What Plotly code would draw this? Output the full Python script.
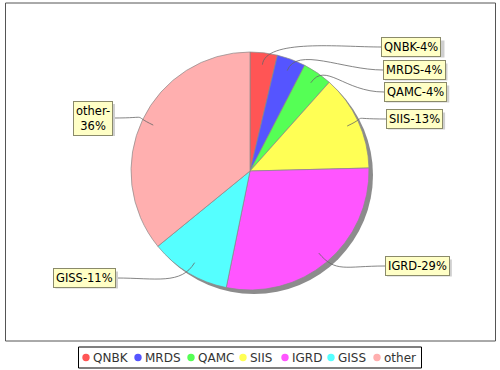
import math
import plotly.graph_objects as go

# ---- data ----
categories = ["QNBK", "MRDS", "QAMC", "SIIS", "IGRD", "GISS", "other"]
values = [3.7, 3.9, 4.0, 13.0, 28.6, 10.9, 35.9]
colors = ["#FF5555", "#5555FF", "#55FF55", "#FFFF55", "#FF55FF", "#55FFFF", "#FFAFAF"]

W, H = 500, 370
FONT = "DejaVu Sans"
FS = 11.5

# approximate DejaVu Sans advance widths (em) for box-shadow sizing
CW = {"Q": .787, "N": .748, "B": .686, "K": .656, "-": .361, "%": .950, "M": .863,
      "R": .695, "D": .770, "S": .635, "A": .684, "C": .698, "I": .295, "G": .775,
      "o": .612, "t": .392, "h": .634, "e": .615, "r": .411}

def text_w(s):
    return sum(CW.get(ch, .636) for ch in s) * FS

# pie geometry (pixels)
CX, CY, R = 250, 171, 119

def px(x):
    return x / W

def py(y):
    return 1 - y / H

total = sum(values)
pcts = [round(v / total * 100) for v in values]
label_lines = [[f"{c}-{p}%"] for c, p in zip(categories, pcts)]
label_lines[6] = [f"{categories[6]}-", f"{pcts[6]}%"]

fig = go.Figure()

# shadow pie
SH = 4
fig.add_trace(go.Pie(
    values=[1], marker=dict(colors=["#8c8c8c"], line=dict(width=0)),
    textinfo="none", hoverinfo="skip", showlegend=False, sort=False,
    domain=dict(x=[px(CX - R + SH), px(CX + R + SH)], y=[py(CY + R + SH), py(CY - R + SH)]),
))

fig.add_trace(go.Pie(
    labels=categories, values=values, sort=False, direction="clockwise", rotation=0,
    marker=dict(colors=colors, line=dict(color="#8a8a8a", width=0.7)),
    textinfo="none", showlegend=False,
    domain=dict(x=[px(CX - R), px(CX + R)], y=[py(CY + R), py(CY - R)]),
))

# label placement (layout): (edge x px, center y px, side)
label_pos = [
    (381, 47, "r"), (383, 70, "r"), (384, 92, "r"), (386, 119, "r"),
    (385, 266, "r"), (116, 278, "l"), (113, 118, "l"),
]

shapes = []
annotations = []

# plot border
shapes.append(dict(type="rect", xref="paper", yref="paper",
                   x0=px(5.5), x1=px(495.5), y0=py(341), y1=py(3),
                   line=dict(color="#555555", width=1)))

cum = 0.0
for i, v in enumerate(values):
    mid = (cum + v / 2) / total * 2 * math.pi
    cum += v
    sx, sy = math.sin(mid), -math.cos(mid)
    ax, ay = CX + 0.9 * R * sx, CY + 0.9 * R * sy
    c1x, c1y = CX + 1.12 * R * sx, CY + 1.12 * R * sy
    lx, ly, side = label_pos[i]
    c2x = lx - 40 if side == "r" else lx + 40
    path = (f"M {px(ax)},{py(ay)} C {px(c1x)},{py(c1y)} "
            f"{px(c2x)},{py(ly)} {px(lx)},{py(ly)}")
    shapes.append(dict(type="path", xref="paper", yref="paper", path=path,
                       line=dict(color="#666666", width=0.8)))
    xa = "left" if side == "r" else "right"
    lines = label_lines[i]
    bw = max(text_w(s) for s in lines) + 6
    bh = 17 + (len(lines) - 1) * 1.3 * FS
    bx0 = lx if side == "r" else lx - bw
    # box shadow
    shapes.append(dict(type="rect", xref="paper", yref="paper", layer="above",
                       x0=px(bx0 + 2), x1=px(bx0 + bw + 2),
                       y0=py(ly + bh / 2 + 2), y1=py(ly - bh / 2 + 2),
                       fillcolor="#cfcfcf", line=dict(width=0)))
    annotations.append(dict(
        x=px(lx), y=py(ly), xref="paper", yref="paper", xanchor=xa, yanchor="middle",
        text="<br>".join(lines), showarrow=False,
        font=dict(family=FONT, size=FS, color="#000000"),
        bgcolor="#FFFFC6", borderpad=2, borderwidth=1, bordercolor="#8a8a6a", align="center"))

# legend (manual, built from categories/colors)
legend_marker_x = [86, 138, 191, 243, 285, 331, 377]
LY = 357.5
shapes.append(dict(type="rect", xref="paper", yref="paper",
                   x0=px(78.5), x1=px(421.5), y0=py(368), y1=py(347),
                   line=dict(color="#000000", width=1)))
for i, c in enumerate(categories):
    mx = legend_marker_x[i]
    shapes.append(dict(type="circle", xref="paper", yref="paper",
                       x0=px(mx - 3.7), x1=px(mx + 3.7), y0=py(LY + 3.7), y1=py(LY - 3.7),
                       fillcolor=colors[i], line=dict(width=0)))
    annotations.append(dict(x=px(mx + 6), y=py(LY), xref="paper", yref="paper",
                            xanchor="left", yanchor="middle", text=c, showarrow=False,
                            borderpad=0,
                            font=dict(family=FONT, size=FS + 0.5, color="#333333")))

fig.update_layout(
    width=W, height=H, margin=dict(l=0, r=0, t=0, b=0),
    paper_bgcolor="white", plot_bgcolor="white",
    shapes=shapes, annotations=annotations, showlegend=False,
)

fig.write_html("out.html", config={"displayModeBar": False},
               post_script="document.body.style.margin='0';")
